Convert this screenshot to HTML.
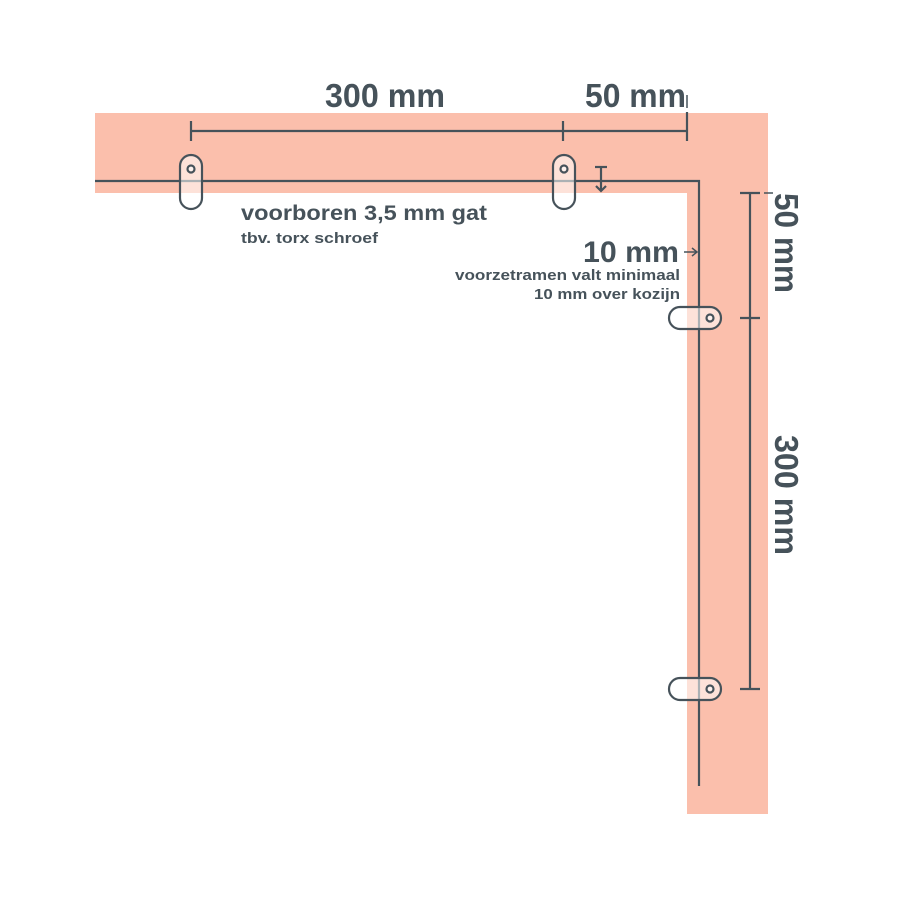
<!DOCTYPE html>
<html><head><style>body{margin:0;background:#fff}svg{display:block}</style></head><body>
<svg width="900" height="900" viewBox="0 0 900 900" xmlns="http://www.w3.org/2000/svg" font-family="Liberation Sans, sans-serif" font-weight="bold" fill="#46525a">
<rect x="95" y="113" width="673" height="80" fill="#fbbfac"/>
<rect x="687" y="113" width="81" height="701" fill="#fbbfac"/>
<g stroke="#46525a" stroke-width="2.2" fill="none">
<polyline points="95,181 699,181 699,786"/>
<line x1="191" y1="131" x2="687" y2="131"/>
<line x1="191" y1="121" x2="191" y2="141"/>
<line x1="563" y1="121" x2="563" y2="141"/>
<line x1="687" y1="112" x2="687" y2="141"/>
<line x1="687" y1="95" x2="687" y2="108" stroke-width="1.5"/>
<line x1="750" y1="193" x2="750" y2="689"/>
<line x1="740" y1="193" x2="760" y2="193"/>
<line x1="764" y1="193" x2="773" y2="193" stroke-width="1.5"/>
<line x1="740" y1="318" x2="760" y2="318"/>
<line x1="740" y1="689" x2="760" y2="689"/>
<line x1="601" y1="167" x2="601" y2="191"/>
<line x1="595" y1="167" x2="607" y2="167"/>
<polyline points="596,186 601,191 606,186"/>
<line x1="684" y1="252" x2="697" y2="252" stroke-width="1.5"/>
<polyline points="692,248 697,252 692,256" stroke-width="1.5"/>
</g>
<g stroke="#46525a" stroke-width="2.2" fill="rgba(255,255,255,0.55)">
<rect x="180" y="155" width="22" height="54" rx="11"/>
<rect x="553" y="155" width="22" height="54" rx="11"/>
<rect x="669" y="307" width="52" height="22" rx="11"/>
<rect x="669" y="678" width="52" height="22" rx="11"/>
<circle cx="191" cy="169" r="3.5"/><circle cx="564" cy="169" r="3.5"/>
<circle cx="710" cy="318" r="3.5"/><circle cx="710" cy="689" r="3.5"/>
</g>
<text x="325" y="107" font-size="33" textLength="120" lengthAdjust="spacingAndGlyphs">300 mm</text>
<text x="585" y="107" font-size="33" textLength="101" lengthAdjust="spacingAndGlyphs">50 mm</text>
<text x="241" y="220" font-size="21" textLength="246" lengthAdjust="spacingAndGlyphs">voorboren 3,5 mm gat</text>
<text x="241" y="243" font-size="15" textLength="137" lengthAdjust="spacingAndGlyphs">tbv. torx schroef</text>
<text x="583" y="262" font-size="30" textLength="96" lengthAdjust="spacingAndGlyphs">10 mm</text>
<text x="455" y="280" font-size="14.5" textLength="225" lengthAdjust="spacingAndGlyphs">voorzetramen valt minimaal</text>
<text x="534" y="299" font-size="14.5" textLength="146" lengthAdjust="spacingAndGlyphs">10 mm over kozijn</text>
<text transform="translate(775,193) rotate(90)" font-size="33" textLength="100" lengthAdjust="spacingAndGlyphs">50 mm</text>
<text transform="translate(775,435) rotate(90)" font-size="33" textLength="120" lengthAdjust="spacingAndGlyphs">300 mm</text>
</svg>
</body></html>
